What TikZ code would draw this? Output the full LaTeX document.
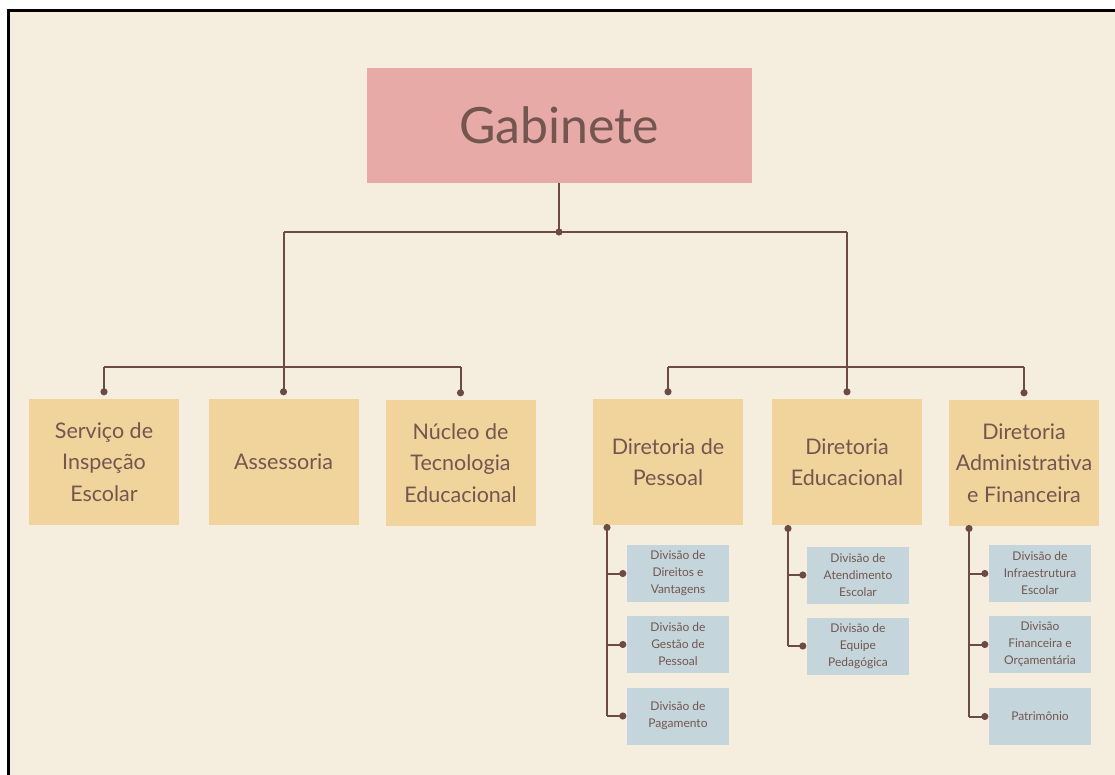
\documentclass[tikz,border=0pt]{standalone}
\usepackage{fontspec}
\setmainfont{Lato}
\usetikzlibrary{arrows.meta}
\definecolor{cream}{HTML}{F5EDDE}
\definecolor{rosa}{HTML}{E8AAA7}
\definecolor{areia}{HTML}{F0D49B}
\definecolor{azul}{HTML}{C4D6DB}
\definecolor{marrom}{HTML}{6B4B44}
\definecolor{tinta}{HTML}{735650}
\tikzset{
  topo/.style={fill=rosa, minimum width=385pt, minimum height=115pt, inner sep=0pt,
    text=tinta, font=\fontsize{50}{60}\selectfont},
  diretoria/.style={fill=areia, minimum width=150pt, minimum height=126pt, inner sep=0pt,
    align=center, text=tinta, font=\fontsize{21.5}{31.5}\selectfont},
  divisao/.style={fill=azul, minimum width=102pt, minimum height=57pt, inner sep=0pt,
    align=center, text=tinta, font=\fontsize{12}{17}\selectfont},
  wire/.style={draw=marrom, line width=2pt},
  dot/.tip={Circle[length=7pt]}
}
\begin{document}
\begin{tikzpicture}[x=1pt,y=-1pt]
      \useasboundingbox (0,0) rectangle (1115,775);
      \fill[white] (0,0) rectangle (1115,775);
      \fill[cream] (8,11) rectangle (1115,775);
      \draw[line width=3pt] (8,775) -- (8,11) -- (1115,11);
      % topo
      \node[topo] (gab) at (559,125.5) {Gabinete};
      % segundo nivel
      \node[diretoria] (serv) at (104,462) {Serviço de\\Inspeção\\Escolar};
      \node[diretoria] (ases) at (283.5,462) {Assessoria};
      \node[diretoria] (nucl) at (460.5,463) {Núcleo de\\Tecnologia\\Educacional};
      \node[diretoria] (pess) at (668,462) {Diretoria de\\Pessoal};
      \node[diretoria] (educ) at (847,462) {Diretoria\\Educacional};
      \node[diretoria] (admf) at (1024,463) {Diretoria\\Administrativa\\e Financeira};
      % divisoes
      \node[divisao] (d1a) at (678,573.5) {Divisão de\\Direitos e\\Vantagens};
      \node[divisao] (d1b) at (678,644.5) {Divisão de\\Gestão de\\Pessoal};
      \node[divisao] (d1c) at (678,716) {Divisão de\\Pagamento};
      \node[divisao] (d2a) at (858,575) {Divisão de\\Atendimento\\Escolar};
      \node[divisao] (d2b) at (858,646) {Divisão de\\Equipe\\Pedagógica};
      \node[divisao] (d3a) at (1040,573.5) {Divisão de\\Infraestrutura\\Escolar};
      \node[divisao] (d3b) at (1040,644.5) {Divisão\\Financeira e\\Orçamentária};
      \node[divisao] (d3c) at (1040,716.5) {Patrimônio};
      % ligacoes do gabinete
      \coordinate (hub) at (559,235.5);
      \coordinate (hubL) at (283.5,232);
      \coordinate (hubR) at (847,232);
      \coordinate (brL) at (283.5,367);
      \coordinate (brR) at (847,367);
      \draw[wire,-dot] (gab.south) -- (hub);
      \draw[wire] (hubL) -- (hubR);
      \draw[wire] (hubL) -- (brL);
      \draw[wire] (hubR) -- (brR);
      \draw[wire] (serv.north |- brL) -- (nucl.north |- brL);
      \draw[wire] (pess.north |- brR) -- (admf.north |- brR);
      \foreach \n in {serv,ases,nucl,pess,educ,admf}
        \draw[wire,-dot,shorten >=3.5pt] (\n.north |- brL) -- (\n.north);
      % ligacoes das diretorias
      \coordinate (s1) at (607,524);
      \coordinate (s2) at (788,525);
      \coordinate (s3) at (969,525);
      \draw[wire,dot-] (s1) -- (s1 |- d1c.west);
      \draw[wire,dot-] (s2) -- (s2 |- d2b.west);
      \draw[wire,dot-] (s3) -- (s3 |- d3c.west);
      \foreach \n in {d1a,d1b,d1c}
        \draw[wire,-dot,shorten >=0.5pt] (s1 |- \n.west) -- (\n.west);
      \foreach \n in {d2a,d2b}
        \draw[wire,-dot,shorten >=0.5pt] (s2 |- \n.west) -- (\n.west);
      \foreach \n in {d3a,d3b,d3c}
        \draw[wire,-dot,shorten >=0.5pt] (s3 |- \n.west) -- (\n.west);
\end{tikzpicture}
\end{document}
